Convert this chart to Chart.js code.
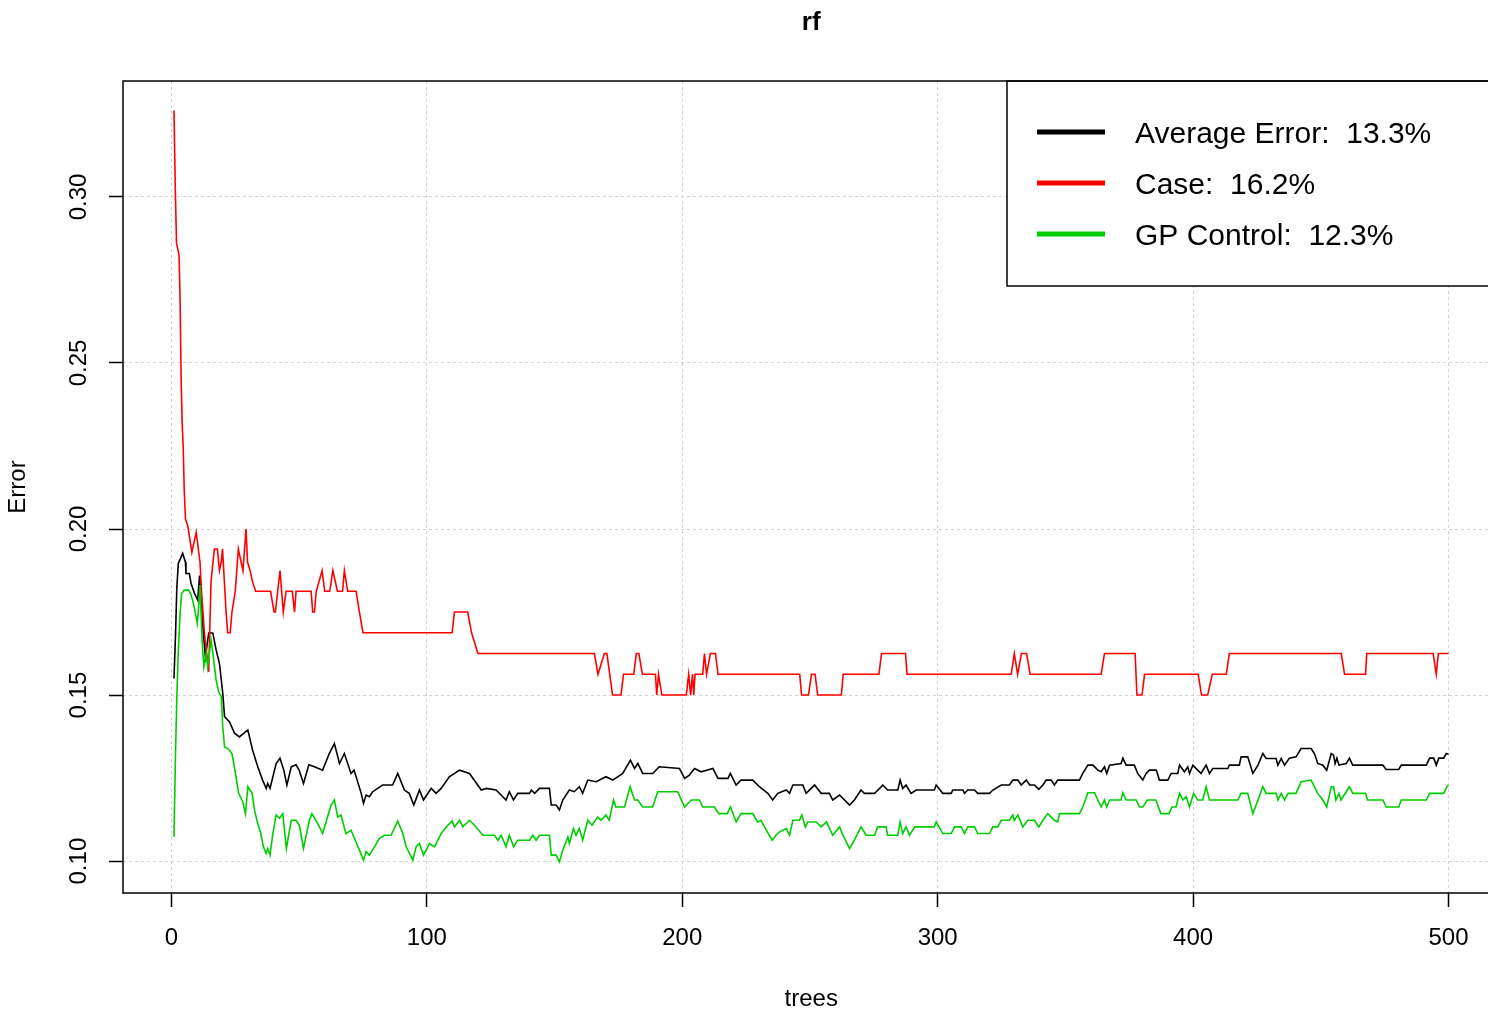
<!DOCTYPE html>
<html>
<head>
<meta charset="utf-8">
<title>rf</title>
<script src="https://cdn.jsdelivr.net/npm/chart.js@4.4.1/dist/chart.umd.min.js"></script>
<style>
    html, body { margin: 0; padding: 0; overflow: hidden; background: #fff; }
    #rf_chart { display: block; }
</style>
</head>
<body>
<canvas id="rf_chart" width="1510" height="1015" style="width:1510px;height:1015px;"></canvas>
<script>
// Data ([trees, error])

const seriesLabels = ['Average Error:  13.3%', 'Case:  16.2%', 'GP Control:  12.3%'];
const seriesColors = ['#000000', '#ff0000', '#00cd00'];
const xTicks = [0, 100, 200, 300, 400, 500];
const yTicks = [0.10, 0.15, 0.20, 0.25, 0.30];

const avgPoints = [
    [1,0.155],[1.6,0.168],[2.1,0.182],[2.7,0.1897],[3.5,0.191],[4.4,0.1927],[5.5,0.19],[5.7,0.1866],[7,0.1866],
    [7.7,0.1836],[9,0.1807],[10.3,0.1786],[11,0.186],[11.6,0.179],[12,0.174],[12.5,0.1686],[13.3,0.1615],
    [14.6,0.1687],[16.2,0.1687],[17.5,0.1636],[18.8,0.1595],[20.1,0.1505],[20.8,0.1435],[22.7,0.142],
    [24.7,0.1385],[26.6,0.1374],[29.9,0.1395],[31.8,0.1334],[33.8,0.1284],[35.7,0.1244],[37.1,0.1219],
    [37.7,0.1234],[38.6,0.1219],[41,0.1294],[42.5,0.131],[44,0.1274],[45.2,0.1229],[46.9,0.1284],[48.8,0.129],
    [50,0.1274],[51.7,0.1234],[53.8,0.129],[56,0.1284],[59.2,0.1274],[61.8,0.1324],[63.8,0.1354],[65.8,0.1294],
    [67.7,0.1324],[70.3,0.1264],[71.5,0.1274],[74.3,0.1204],[75.2,0.1174],[76.2,0.1199],[77.5,0.1194],
    [78.8,0.1209],[82.7,0.1229],[86.6,0.1229],[88.6,0.1264],[91.2,0.1214],[93.1,0.1204],[94.9,0.1169],
    [97.1,0.1214],[98.7,0.1184],[101.7,0.1219],[103.6,0.1204],[105.6,0.1219],[108.8,0.1254],[112.8,0.1274],
    [116.7,0.1264],[121.3,0.1214],[123.3,0.1219],[127.1,0.1214],[131,0.1184],[132.3,0.1209],[133.9,0.1184],
    [135.6,0.1204],[140.2,0.1204],[140.9,0.1214],[142.2,0.1204],[144.1,0.1219],[148,0.1219],[148.7,0.1169],
    [150.6,0.1169],[151.9,0.1154],[153.2,0.1184],[155.8,0.1214],[157.7,0.1209],[159.7,0.1224],[161,0.1204],
    [163,0.1244],[166.3,0.1239],[170.1,0.1254],[172.8,0.1244],[176.7,0.1264],[179.7,0.1304],[181.3,0.1279],
    [182.6,0.1294],[184.5,0.1264],[188.4,0.1264],[191,0.1284],[198.9,0.1279],[200.9,0.1249],[202.8,0.1259],
    [204.8,0.1279],[207.4,0.1269],[212,0.1279],[214,0.1249],[217.9,0.1249],[218.8,0.1264],[221.1,0.1229],
    [223,0.1244],[227.6,0.1244],[230.2,0.1224],[233.5,0.1204],[235.4,0.1184],[237.4,0.1204],[240.7,0.1214],
    [242,0.1204],[243.3,0.1229],[247.2,0.1229],[248.5,0.1204],[251.8,0.1229],[254.4,0.1204],[257.6,0.1204],
    [258.9,0.1184],[261.6,0.1199],[265.5,0.1169],[267.4,0.1184],[270,0.1214],[271.3,0.1204],[275.3,0.1204],
    [278.5,0.1229],[280.4,0.1214],[284.4,0.1214],[285.3,0.1244],[286.3,0.1219],[287.6,0.1229],[289.6,0.1204],
    [291.6,0.1214],[298.7,0.1214],[299.4,0.1229],[302,0.1204],[305.3,0.1204],[305.9,0.1214],[309.9,0.1214],
    [310.5,0.1204],[311.8,0.1214],[314.4,0.1214],[315.7,0.1204],[320.3,0.1204],[321.6,0.1214],[324.9,0.1229],
    [328.1,0.1229],[329.4,0.1244],[331.4,0.1244],[332.7,0.1229],[334.7,0.1244],[336,0.1229],[337.9,0.1229],
    [339.6,0.1216],[341.2,0.1229],[342.5,0.1244],[344.5,0.1244],[345.7,0.1229],[347,0.1244],[355.5,0.1244],
    [356.8,0.1264],[358.8,0.1289],[360.8,0.1289],[362.7,0.1274],[364,0.1269],[365.3,0.1284],[366.2,0.1264],
    [367.3,0.1289],[371.8,0.1294],[372.5,0.131],[373.8,0.1289],[377,0.1289],[378.3,0.1264],[380.3,0.1244],
    [381.6,0.1264],[382.9,0.1274],[385.6,0.1274],[386.8,0.1244],[390.1,0.1244],[391.4,0.1264],[394,0.1264],
    [394.7,0.1289],[396.6,0.1269],[397.9,0.1284],[398.6,0.1264],[399.9,0.1289],[401.8,0.1274],[403.1,0.1264],
    [405.1,0.1289],[406.4,0.1264],[407.7,0.1279],[413.6,0.1279],[414.2,0.1289],[418.1,0.1289],[418.8,0.1314],
    [421.4,0.1314],[423.4,0.1264],[425.4,0.1289],[427.3,0.1324],[428.6,0.1309],[432.5,0.1309],[433.2,0.1289],
    [434.5,0.1309],[435.8,0.1289],[437.7,0.131],[440.3,0.1314],[442.3,0.1339],[446.2,0.1339],[447.5,0.1324],
    [448.8,0.1294],[450.8,0.1289],[452.3,0.1274],[454.1,0.1324],[455,0.1319],[455.6,0.1294],[456.3,0.131],
    [457.1,0.1289],[460,0.1294],[461.2,0.131],[462.5,0.1289],[474.3,0.1289],[475.6,0.1276],[480.5,0.1276],
    [481.5,0.1289],[491.3,0.1289],[492.6,0.131],[494.2,0.131],[495.2,0.1289],[496.2,0.131],[498.1,0.131],
    [499.1,0.1324],[500,0.1322]
];

const casePoints = [
    [1,0.326],[1.5,0.303],[2,0.286],[2.6,0.284],[3,0.282],[3.4,0.269],[3.8,0.245],[4.2,0.232],[4.6,0.225],
    [5,0.212],[5.5,0.203],[6.4,0.201],[8,0.193],[9.7,0.199],[11.2,0.19],[11.8,0.181],[12.9,0.169],[14.6,0.157],
    [15.5,0.184],[16.8,0.194],[18,0.194],[18.8,0.1875],[19.5,0.19],[20,0.194],[21.4,0.175],[22,0.16875],
    [23,0.16875],[23.7,0.175],[25,0.18125],[26.2,0.194],[27.3,0.19],[28,0.1875],[29.2,0.2],[29.8,0.19],
    [30.8,0.1875],[31.8,0.184],[33,0.18125],[38.8,0.18125],[40.2,0.175],[40.7,0.175],[41.6,0.18125],
    [42.5,0.1875],[43.8,0.175],[44.9,0.18125],[47.3,0.18125],[48.2,0.175],[48.8,0.18125],[54.7,0.18125],
    [55.3,0.175],[56,0.175],[56.7,0.18125],[59,0.1875],[60,0.18125],[62,0.18125],[63.2,0.1875],[65,0.18125],
    [67,0.18125],[67.7,0.1875],[69,0.18125],[72.3,0.18125],[73.6,0.175],[75,0.16875],[109.9,0.16875],
    [110.8,0.175],[116,0.175],[117.5,0.16875],[120,0.1625],[165.6,0.1625],[167,0.15625],[169.5,0.1625],
    [170.5,0.1625],[172.7,0.15],[176,0.15],[177,0.15625],[181,0.15625],[182,0.1625],[183,0.1625],
    [184.4,0.15625],[189.5,0.15625],[190,0.15],[190.7,0.15625],[192,0.15],[201.6,0.15],[202.5,0.15625],
    [203.3,0.15],[204,0.15625],[204.5,0.15],[205,0.15625],[208,0.15625],[208.7,0.1625],[209.5,0.15625],
    [211,0.1625],[213,0.1625],[214,0.15625],[246,0.15625],[246.7,0.15],[249.4,0.15],[250.6,0.15625],
    [252,0.15625],[253,0.15],[262.3,0.15],[263,0.15625],[277,0.15625],[278,0.1625],[287.4,0.1625],
    [288,0.15625],[328.8,0.15625],[330,0.1625],[331.3,0.15625],[332.8,0.1625],[334.8,0.1625],[336.2,0.15625],
    [364,0.15625],[365.3,0.1625],[377.3,0.1625],[378,0.15],[380,0.15],[381,0.15625],[402,0.15625],
    [403.3,0.15],[405.7,0.15],[407.5,0.15625],[413,0.15625],[414.2,0.1625],[458,0.1625],[459.3,0.15625],
    [467.5,0.15625],[468,0.1625],[494,0.1625],[495.2,0.15625],[496,0.1625],[500,0.1625]
];

const gpPoints = [
    [1,0.1073],[1.2,0.1159],[1.6,0.1324],[2.1,0.149],[2.7,0.1636],[3.4,0.1746],[4,0.1806],[5,0.1816],
    [6.8,0.1816],[7.7,0.1801],[8.3,0.1786],[9.4,0.1746],[10.1,0.1716],[10.6,0.1756],[11.2,0.1831],[12,0.1666],
    [12.7,0.1585],[13.6,0.1626],[14.2,0.1585],[15.5,0.1666],[16.4,0.1616],[17.5,0.1545],[18.5,0.151],
    [19.5,0.1495],[20.1,0.1404],[20.8,0.1344],[22.1,0.1339],[23.7,0.1324],[25.3,0.1254],[26.3,0.1204],
    [27.9,0.1179],[29,0.1143],[29.9,0.1224],[31.6,0.1204],[32.5,0.1154],[33.8,0.1113],[35,0.1083],[36,0.1043],
    [37.1,0.1023],[37.7,0.1038],[38.6,0.1018],[39.7,0.1083],[41,0.1139],[42.3,0.1129],[43.6,0.1143],[45,0.1038],
    [46.9,0.1123],[48.8,0.1123],[50.1,0.1108],[51.7,0.1038],[54,0.1123],[55,0.1143],[57.3,0.1113],[59.2,0.1083],
    [61.1,0.1133],[62.5,0.1169],[63.8,0.1184],[65.1,0.1133],[66.4,0.1139],[68.3,0.1083],[70.3,0.1093],
    [72.5,0.1053],[73.6,0.1033],[75.2,0.1003],[76.2,0.1028],[77.5,0.1018],[79.5,0.1043],[81.4,0.1068],
    [83.4,0.1078],[86,0.1078],[88.6,0.1121],[90.6,0.1083],[91.9,0.1043],[94.5,0.1003],[95.8,0.1043],
    [97.1,0.1053],[98.7,0.1018],[101,0.1053],[103,0.1043],[105.6,0.1083],[107.6,0.1103],[109.9,0.1121],
    [110.8,0.1103],[112.8,0.1123],[114.1,0.1103],[116.7,0.1123],[119.3,0.1103],[121.9,0.1078],[126.5,0.1078],
    [127.8,0.1063],[129.1,0.1078],[131,0.1043],[132.3,0.1078],[134,0.1043],[135.6,0.1063],[140.2,0.1063],
    [141.5,0.1078],[142.8,0.1063],[144.1,0.1078],[148,0.1078],[148.7,0.1018],[150.6,0.1018],[151.9,0.0998],
    [153.2,0.1033],[155.2,0.1073],[155.8,0.1053],[157.4,0.1098],[158.4,0.1078],[159.7,0.1098],[161,0.1063],
    [163,0.1123],[164.7,0.1108],[166.9,0.1133],[168.2,0.1123],[170.1,0.1139],[171.4,0.1123],[173.1,0.1184],
    [174,0.1163],[177.4,0.1163],[179.6,0.1224],[181.3,0.1184],[182.6,0.1184],[184.5,0.1163],[188.4,0.1163],
    [190.4,0.1209],[198.2,0.1209],[200.9,0.1163],[203.5,0.1184],[206.7,0.1184],[208,0.1163],[212.6,0.1163],
    [214.3,0.1143],[217.6,0.1143],[218.9,0.1163],[221.1,0.1118],[223,0.1143],[227.6,0.1143],[229.5,0.1118],
    [230.8,0.1123],[232.2,0.1103],[235.2,0.1063],[236.7,0.1078],[238.1,0.1088],[240.7,0.1098],[242,0.1078],
    [243.3,0.1123],[245.9,0.1123],[246.8,0.1139],[248.2,0.1103],[249.1,0.1118],[252.4,0.1118],[254.4,0.1103],
    [256.5,0.1118],[258.9,0.1078],[261.6,0.1103],[262.9,0.1078],[265.5,0.1038],[267.4,0.1063],[270,0.1103],
    [272,0.1078],[275.3,0.1078],[276.5,0.1103],[279.8,0.1103],[280.4,0.1078],[284.4,0.1078],[285.3,0.1118],
    [286.3,0.1083],[287.6,0.1103],[289,0.1078],[291,0.1103],[298.7,0.1103],[299.4,0.1118],[302,0.1083],
    [305.3,0.1083],[306.6,0.1103],[309.2,0.1103],[310.5,0.1083],[311.8,0.1103],[314.4,0.1103],[315.7,0.1083],
    [320.3,0.1083],[321.6,0.1103],[323.5,0.1103],[324.9,0.1123],[328.1,0.1123],[329.4,0.1139],[330,0.1123],
    [331.4,0.1139],[333.3,0.1103],[335.3,0.1123],[337.9,0.1123],[339.6,0.1103],[341.2,0.1123],[343.1,0.1143],
    [345.7,0.1123],[347,0.1118],[347.7,0.1143],[355.5,0.1143],[356.8,0.1163],[358.8,0.1206],[361.4,0.1206],
    [362.7,0.1184],[364,0.1163],[365.3,0.1184],[366.2,0.1163],[367.3,0.1184],[371.8,0.1184],[372.5,0.1206],
    [373.8,0.1184],[377.7,0.1184],[379,0.1163],[380.3,0.1163],[382.1,0.1184],[385.4,0.1184],[387.4,0.1143],
    [390.6,0.1143],[391.7,0.1163],[393.3,0.1163],[394.7,0.1204],[396,0.1184],[397.3,0.1194],[398.6,0.1163],
    [400.2,0.1204],[401.8,0.1184],[403.8,0.1184],[405.1,0.1224],[406.4,0.1184],[417.5,0.1184],[418.8,0.1204],
    [421.4,0.1204],[423.4,0.1143],[425.4,0.1184],[427.3,0.1224],[428.6,0.1204],[432.5,0.1204],[433.2,0.1184],
    [434.5,0.1204],[435.8,0.1184],[437.2,0.1204],[440.3,0.1204],[442.3,0.1239],[446.2,0.1244],[448.8,0.1204],
    [450.8,0.1184],[452.3,0.1163],[454.1,0.1224],[455,0.1224],[455.9,0.1184],[457.1,0.1204],[457.9,0.1184],
    [461.2,0.1224],[462.5,0.1204],[467.5,0.1204],[468.3,0.1184],[474.3,0.1184],[475.6,0.1163],[480.5,0.1163],
    [481.5,0.1184],[491.3,0.1184],[492.6,0.1204],[498.1,0.1204],[499.4,0.1224],[500,0.1229]
];

// Axis ranges (R pads the data range by 4% on each side)
const xRange = [-18.96, 519.96];
const yRange = [0.0904, 0.3349];

const fontFamily = "'Liberation Sans', Arial, sans-serif";
Chart.defaults.color = '#000';
Chart.defaults.font.family = fontFamily;

const toXY = function(points) {
    return points.map(p => ({ x: p[0], y: p[1] }));
}

// Legend and plot box, drawn like R's legend("topright") and box()

const rBoxAndLegend = {
    id: 'rBoxAndLegend',
    afterDraw(chart) {
        const ctx = chart.ctx;
        const area = chart.chartArea;
        const boxLeft = 1007;
        const boxBottom = 286;

        ctx.save();
        ctx.fillStyle = '#fff';
        ctx.fillRect(boxLeft, area.top, area.right - boxLeft, boxBottom - area.top);
        ctx.strokeStyle = '#000';
        ctx.lineWidth = 1.5;
        ctx.strokeRect(boxLeft, area.top, area.right - boxLeft, boxBottom - area.top);

        ctx.font = '30px ' + fontFamily;
        ctx.textBaseline = 'middle';
        ctx.textAlign = 'left';
        chart.data.datasets.forEach((ds, i) => {
            const rowY = area.top + 51 + i * 51;
            ctx.strokeStyle = ds.borderColor;
            ctx.lineWidth = 5;
            ctx.beginPath();
            ctx.moveTo(1037, rowY);
            ctx.lineTo(1105, rowY);
            ctx.stroke();
            ctx.fillStyle = '#000';
            ctx.fillText(ds.label, 1135, rowY + 3);
        });

        ctx.strokeStyle = '#000';
        ctx.lineWidth = 1.5;
        ctx.strokeRect(area.left, area.top, area.right - area.left, area.bottom - area.top);
        ctx.restore();
    }
};

const datasets = [avgPoints, casePoints, gpPoints].map((points, i) => ({
    label: seriesLabels[i],
    data: toXY(points),
    borderColor: seriesColors[i],
    borderWidth: 1.6,
    pointRadius: 0,
    tension: 0,
    fill: false,
    order: 3 - i
}));

const ctx = document.getElementById('rf_chart').getContext('2d');
const rfChart = new Chart(ctx, {
    type: 'line',
    data: { datasets: datasets },
    options: {
        responsive: false,
        animation: false,
        devicePixelRatio: 1,
        layout: { padding: { left: 0, right: 10.5, top: 0, bottom: 0 } },
        plugins: {
            legend: { display: false },
            tooltip: { enabled: false },
            title: {
                display: true,
                text: 'rf',
                fullSize: false,
                font: { size: 26, weight: 'bold', family: fontFamily },
                color: '#000',
                padding: { top: 7, bottom: 42.8 }
            }
        },
        scales: {
            x: {
                type: 'linear',
                min: xRange[0],
                max: xRange[1],
                afterBuildTicks: function(scale) { scale.ticks = xTicks.map(v => ({ value: v })); },
                afterFit: function(scale) { scale.height = 122; },
                ticks: {
                    font: { size: 24 },
                    padding: 17,
                    maxRotation: 0,
                    callback: function(v) { return String(v); }
                },
                grid: {
                    color: '#d3d3d3',
                    lineWidth: 1,
                    tickColor: '#000',
                    tickLength: 14,
                    tickWidth: 1.5,
                    tickBorderDash: []
                },
                border: { display: false, dash: [3, 3] },
                title: {
                    display: true,
                    text: 'trees',
                    font: { size: 24 },
                    padding: { top: 0, bottom: 1.6 }
                }
            },
            y: {
                type: 'linear',
                min: yRange[0],
                max: yRange[1],
                afterBuildTicks: function(scale) { scale.ticks = yTicks.map(v => ({ value: v })); },
                afterFit: function(scale) { scale.width = 123; },
                ticks: {
                    font: { size: 24 },
                    padding: 6,
                    minRotation: 90,
                    maxRotation: 90,
                    crossAlign: 'center',
                    callback: function(v) { return v.toFixed(2); }
                },
                grid: {
                    color: '#d3d3d3',
                    lineWidth: 1,
                    tickColor: '#000',
                    tickLength: 14,
                    tickWidth: 1.5,
                    tickBorderDash: []
                },
                border: { display: false, dash: [3, 3] },
                title: {
                    display: true,
                    text: 'Error',
                    font: { size: 24 },
                    padding: { top: 3.6, bottom: 0 }
                }
            }
        }
    },
    plugins: [rBoxAndLegend]
});
</script>
</body>
</html>
